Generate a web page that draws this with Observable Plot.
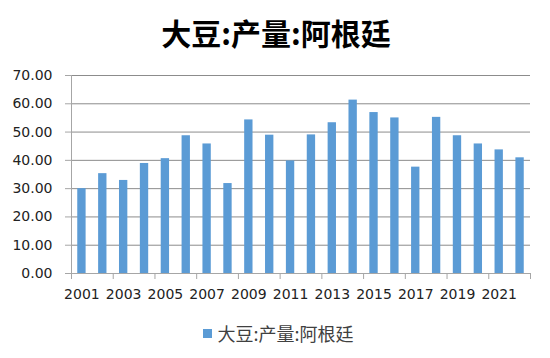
<!DOCTYPE html>
<html><head><meta charset="utf-8">
<script src="https://cdn.jsdelivr.net/npm/d3@7"></script>
<script src="https://cdn.jsdelivr.net/npm/@observablehq/plot@0.6"></script>
<style>
body{margin:0;background:#fff;width:550px;height:358px;overflow:hidden;font-family:"DejaVu Sans",sans-serif;}
#title{height:60px;text-align:center;font:bold 30px "Noto Sans CJK SC";line-height:64px;color:#000;padding-left:2px;}
#chart{height:253px;}
#legend{height:40px;display:flex;align-items:center;justify-content:center;padding-left:7px;font:18px "Noto Sans CJK SC";color:#404040;}
#legend .sw{display:inline-block;width:9px;height:9px;background:#5B9BD5;margin-right:5px;}
</style></head><body>
<div id="title">大豆:产量:阿根廷</div>
<div id="chart"></div>
<div id="legend"><span class="sw"></span><span>大豆:产量:阿根廷</span></div>
<script>
const seriesName = "大豆:产量:阿根廷";
const years = [2001,2002,2003,2004,2005,2006,2007,2008,2009,2010,2011,2012,2013,2014,2015,2016,2017,2018,2019,2020,2021,2022];
const values = [30.0,35.3,32.9,38.9,40.6,48.7,45.8,31.8,54.3,48.9,39.8,49.0,53.3,61.3,56.9,55.0,37.6,55.2,48.7,45.8,43.7,40.9];
const yTicks = [0,10,20,30,40,50,60,70];
const xLabels = [2001,2003,2005,2007,2009,2011,2013,2015,2017,2019,2021];

const data = years.map((y,i)=>({year:y, value:values[i]}));
const bounds = d3.range(years[0]-0.5, years[years.length-1]+1, 2);
const axisColor = "#a6a6a6";
const gridColor = "#8c8c8c";

const chart = Plot.plot({
  width:550, height:253,
  marginTop:15, marginBottom:40, marginLeft:71, marginRight:20,
  style:{fontFamily:"DejaVu Sans", fontSize:"14px", color:"#222", background:"#fff"},
  x:{type:"linear", domain:[years[0]-0.5, years[years.length-1]+0.5]},
  y:{domain:[0,70]},
  marks:[
    Plot.gridY(yTicks, {stroke:gridColor, strokeOpacity:1}),
    Plot.axisY(yTicks, {tickSize:6, tickPadding:13, tickFormat:d3.format(".2f"), stroke:axisColor, strokeOpacity:1, fontSize:14, label:null}),
    Plot.ruleX([years[0]-0.5], {y1:0, y2:70, stroke:axisColor}),
    Plot.rectY(data, {x1:d=>d.year-0.2, x2:d=>d.year+0.2, y:"value", fill:"#5B9BD5"}),
    Plot.ruleY([0], {stroke:axisColor}),
    Plot.axisX(bounds, {tickSize:6, tickFormat:()=>"", stroke:axisColor, strokeOpacity:1, label:null}),
    Plot.axisX(xLabels, {tickSize:0, tickPadding:16, tickFormat:d=>String(d), fontSize:14, label:null})
  ]
});
document.getElementById("chart").appendChild(chart);
</script>
</body></html>
